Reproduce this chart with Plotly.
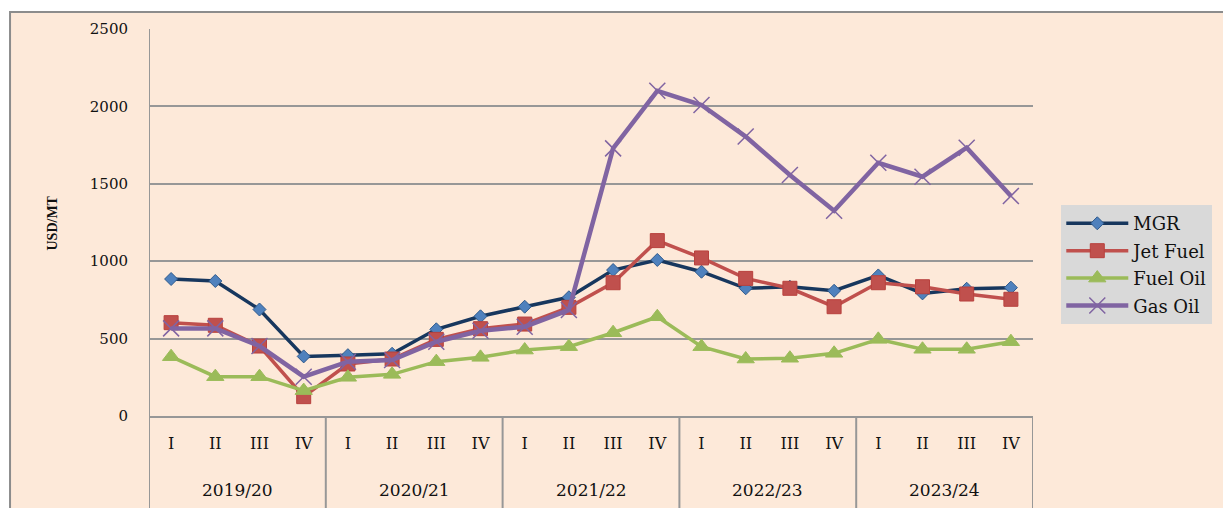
import plotly.graph_objects as go

quarters = ["I", "II", "III", "IV"]
years = ["2019/20", "2020/21", "2021/22", "2022/23", "2023/24"]

mgr = [885, 872, 688, 385, 393, 402, 560, 644, 706, 767, 943, 1008,
       932, 825, 835, 809, 908, 792, 822, 829]
jet_fuel = [603, 586, 452, 125, 336, 368, 495, 564, 594, 702, 861, 1133,
            1021, 889, 825, 706, 861, 835, 788, 754]
fuel_oil = [383, 254, 254, 164, 250, 269, 351, 379, 426, 448, 538, 641,
            448, 368, 373, 405, 495, 431, 431, 480]
gas_oil = [566, 566, 452, 254, 351, 362, 480, 551, 577, 685, 1729, 2101,
           2009, 1805, 1557, 1326, 1636, 1546, 1733, 1421]

y_ticks = [0, 500, 1000, 1500, 2000, 2500]

n = len(years) * len(quarters)
xs = list(range(n))
qlabels = quarters * len(years)

PEACH = "#FDE9D9"
GRID = "#979797"
SERIF = "DejaVu Serif"

fig = go.Figure()

fig.add_trace(go.Scatter(
    x=xs, y=mgr, name="MGR", mode="lines+markers", legendgroup="a",
    line=dict(color="#17375E", width=3.5),
    marker=dict(symbol="diamond", size=10, color="#4F81BD",
                line=dict(color="#2F5A8C", width=1))))
fig.add_trace(go.Scatter(
    x=xs, y=jet_fuel, name="Jet Fuel", mode="lines+markers", legendgroup="b",
    line=dict(color="#C0504D", width=3.5),
    marker=dict(symbol="square", size=14, color="#C0504D",
                line=dict(color="#B8403D", width=1))))
fig.add_trace(go.Scatter(
    x=xs, y=fuel_oil, name="Fuel Oil", mode="lines+markers", legendgroup="c",
    line=dict(color="#9BBB59", width=3.5),
    marker=dict(symbol="triangle-up", size=15, color="#9BBB59",
                line=dict(color="#9BBB59", width=1))))
fig.add_trace(go.Scatter(
    x=xs, y=gas_oil, name="Gas Oil", mode="lines+markers", legendgroup="d",
    line=dict(color="#8064A2", width=4.5),
    marker=dict(symbol="x-thin", size=16, color="#8064A2",
                line=dict(color="#8064A2", width=1.5))))

shapes = []
# chart area background with frame
shapes.append(dict(type="rect", xref="paper", yref="paper",
                   x0=-0.1572, x1=1.4, y0=-0.5, y1=1.0439,
                   fillcolor=PEACH, line=dict(color="#8C8C8C", width=2),
                   layer="below"))
# year separators and left axis line
for k in range(len(years) + 1):
    xv = k * len(quarters) - 0.5
    shapes.append(dict(type="line", xref="x", yref="paper",
                       x0=xv, x1=xv, y0=-0.5, y1=1 if k == 0 else 0,
                       line=dict(color=GRID, width=2)))

annotations = []
for k, yr in enumerate(years):
    annotations.append(dict(x=k * len(quarters) + 1.5, y=-0.191, xref="x",
                            yref="paper", text=yr, showarrow=False,
                            font=dict(family=SERIF, size=17, color="#111111"),
                            xanchor="center", yanchor="middle"))
annotations.append(dict(x=-0.1086, y=0.5, xref="paper", yref="paper",
                        text="<b>USD/MT</b>", showarrow=False, textangle=-90,
                        font=dict(family="Liberation Sans Narrow", size=14,
                                  color="#111111"),
                        xanchor="center", yanchor="middle"))

fig.update_layout(
    width=1231, height=508,
    margin=dict(l=141, r=206, t=21, b=100, autoexpand=False),
    paper_bgcolor="white", plot_bgcolor=PEACH,
    shapes=shapes, annotations=annotations,
    showlegend=True,
    legend=dict(x=1.032, y=0.545, xanchor="left", yanchor="top",
                bgcolor="#D9D9D9", borderwidth=0,
                font=dict(family=SERIF, size=18, color="#111111"),
                tracegroupgap=1, traceorder="grouped", itemwidth=62),
    xaxis=dict(range=[-0.5, n - 0.5], tickmode="array", tickvals=xs,
               ticktext=qlabels, showgrid=False, zeroline=False,
               showline=True, linecolor=GRID, linewidth=2,
               ticks="", ticklabelstandoff=12,
               tickfont=dict(family=SERIF, size=16, color="#111111")),
    yaxis=dict(range=[0, 2500], tickmode="array", tickvals=y_ticks,
               showgrid=True, gridcolor=GRID, gridwidth=1.5,
               zeroline=False, showline=False, ticks="",
               ticklabelstandoff=20,
               tickfont=dict(family=SERIF, size=15, color="#111111")),
)

fig.write_html("out.html")
